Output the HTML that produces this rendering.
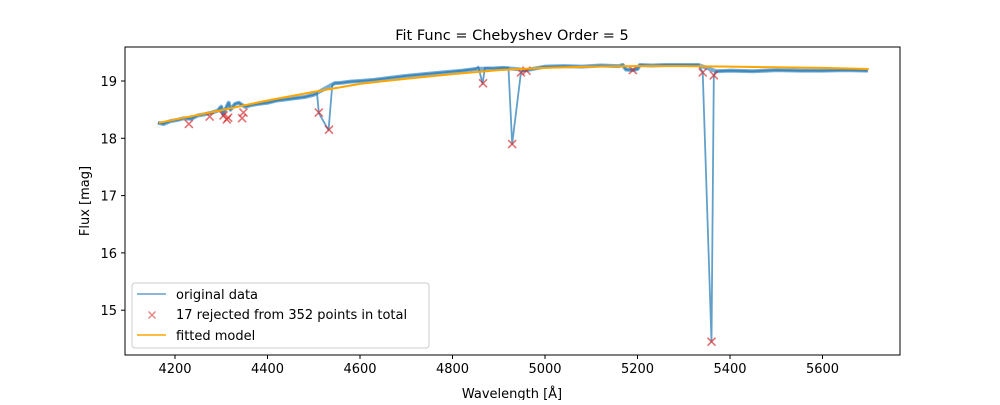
<!DOCTYPE html>
<html><head><meta charset="utf-8"><style>
body{margin:0;background:#fff;font-family:"Liberation Sans","DejaVu Sans",sans-serif;}
svg text{font-family:"DejaVu Sans","Liberation Sans",sans-serif;fill:#000;}
</style></head><body>
<svg id="chart" width="1000" height="400" viewBox="0 0 1000 400" xmlns="http://www.w3.org/2000/svg">
<rect x="0" y="0" width="1000" height="400" fill="#fff"/>
<g id="plot"></g>
<rect x="125" y="47" width="775" height="308" fill="none" stroke="#000" stroke-width="1"/>
<g id="axes"></g>
<text x="512" y="40" font-size="14.5" text-anchor="middle">Fit Func = Chebyshev  Order = 5</text>
<text x="512" y="398" font-size="13" text-anchor="middle">Wavelength [Å]</text>
<text transform="translate(89,201) rotate(-90)" font-size="13" text-anchor="middle">Flux [mag]</text>
<g>
<rect x="132" y="283" width="297" height="65" rx="3" fill="#fff" fill-opacity="0.8" stroke="#ccc"/>
<line x1="137" y1="294" x2="166" y2="294" stroke="#1f77b4" stroke-opacity="0.7" stroke-width="1.5"/>
<text x="176" y="299" font-size="13">original data</text>
<path d="M148.5,311.5L155.5,318.5M148.5,318.5L155.5,311.5" stroke="#d62728" stroke-opacity="0.6" stroke-width="1.3"/>
<text x="176" y="319" font-size="13">17 rejected from 352 points in total</text>
<line x1="137" y1="335" x2="166" y2="335" stroke="#ffa500" stroke-width="1.5"/>
<text x="176" y="340" font-size="13">fitted model</text>
</g>
</svg>
<script>
const dataWave=[4163,4175,4190,4205,4220,4235,4250,4265,4280,4292,4300,4304,4316,4320,4330,4338,4345,4352,4365,4380,4400,4420,4440,4460,4480,4500,4507,4511,4532,4540,4545,4560,4580,4600,4630,4660,4700,4740,4780,4820,4850,4856,4865,4870,4890,4910,4921,4929,4948,4960,4980,5000,5040,5080,5120,5160,5168,5175,5190,5200,5205,5230,5260,5300,5332,5341,5360,5365,5370,5400,5450,5500,5550,5600,5650,5698];
const dataFlux=[18.27,18.25,18.3,18.32,18.35,18.34,18.4,18.42,18.45,18.48,18.55,18.42,18.62,18.5,18.6,18.62,18.58,18.55,18.58,18.6,18.62,18.66,18.68,18.7,18.72,18.76,18.79,18.44,18.14,18.93,18.96,18.97,18.99,19.0,19.02,19.05,19.09,19.12,19.15,19.18,19.21,19.25,18.95,19.23,19.22,19.23,19.23,17.9,19.15,19.19,19.22,19.25,19.26,19.25,19.27,19.26,19.28,19.2,19.19,19.21,19.28,19.27,19.28,19.28,19.28,19.15,14.45,19.1,19.17,19.18,19.17,19.19,19.18,19.18,19.19,19.18];
const rejWave=[4230,4275,4305,4312,4315,4345,4348,4511,4533,4866,4929,4948,4960,5190,5341,5360,5365];
const rejFlux=[18.25,18.38,18.4,18.33,18.36,18.35,18.45,18.45,18.15,18.96,17.9,19.15,19.18,19.19,19.15,14.45,19.1];
const fitWave=[4165,4300,4400,4500,4600,4700,4800,4900,5000,5100,5200,5300,5400,5500,5600,5700];
const fitFlux=[18.27,18.49,18.66,18.81,18.95,19.04,19.12,19.19,19.23,19.25,19.26,19.26,19.25,19.24,19.23,19.21];
const xTicks=[4200,4400,4600,4800,5000,5200,5400,5600];
const yTicks=[15,16,17,18,19];
const X=w=>175+(w-4200)*0.4625;
const Y=f=>81+(19-f)*57.3;
const NS="http://www.w3.org/2000/svg";
const plot=document.getElementById('plot'),axes=document.getElementById('axes');
function mk(t,a,p){const e=document.createElementNS(NS,t);for(const k in a)e.setAttribute(k,a[k]);p.appendChild(e);return e;}
const dl=mk('polyline',{points:dataWave.map((w,i)=>X(w)+','+Y(dataFlux[i])).join(' '),fill:'none',stroke:'#1f77b4','stroke-opacity':0.7,'stroke-width':1.8,'stroke-linejoin':'round'},plot);


const thick=mk('polyline',{points:dataWave.filter((w,i)=>Math.abs(dataFlux[i]-(dataFlux[i-1]||dataFlux[i]))<0.2&&Math.abs(dataFlux[i]-(dataFlux[i+1]||dataFlux[i]))<0.2).map(w=>{const i=dataWave.indexOf(w);return X(w)+','+Y(dataFlux[i]);}).join(' '),fill:'none',stroke:'#1f77b4','stroke-opacity':0.6,'stroke-width':4,'stroke-linejoin':'round'},plot);


rejWave.forEach((w,i)=>{const x=X(w),y=Y(rejFlux[i]);
const g=mk('path',{d:`M${x-4},${y-4}L${x+4},${y+4}M${x-4},${y+4}L${x+4},${y-4}`,stroke:'#d62728','stroke-opacity':0.65,'stroke-width':1.6},plot);

});
const fl=mk('polyline',{points:fitWave.map((w,i)=>X(w)+','+Y(fitFlux[i])).join(' '),fill:'none',stroke:'#ffa500','stroke-width':2},plot);


xTicks.forEach(t=>{const x=X(t);mk('line',{x1:x,y1:355,x2:x,y2:359,stroke:'#000'},axes);
const tx=mk('text',{x:x,y:373,'font-size':13,'text-anchor':'middle'},axes);tx.textContent=t;

});
yTicks.forEach(t=>{const y=Y(t);mk('line',{x1:121,y1:y,x2:125,y2:y,stroke:'#000'},axes);
const tx=mk('text',{x:117,y:y+5,'font-size':13,'text-anchor':'end'},axes);tx.textContent=t;

});
</script>
</body></html>
